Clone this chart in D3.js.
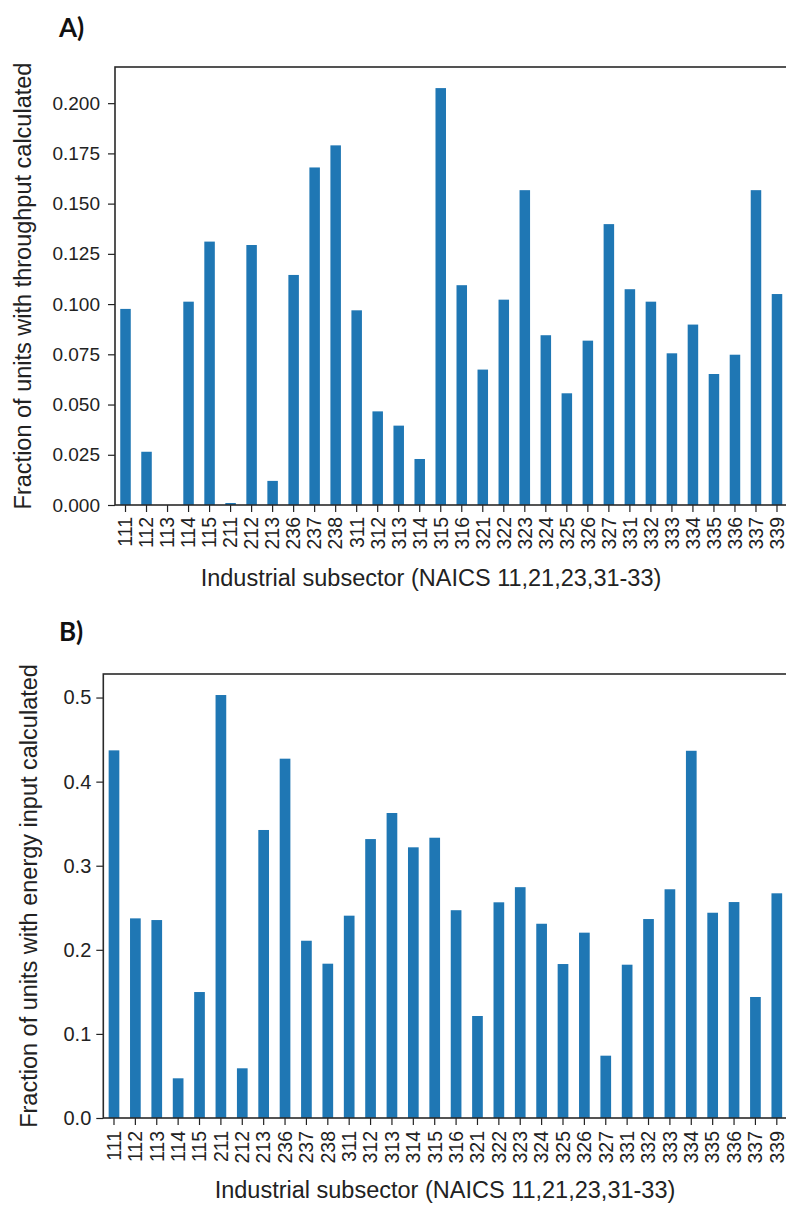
<!DOCTYPE html>
<html>
<head>
<meta charset="utf-8">
<script src="https://cdn.jsdelivr.net/npm/d3@7"></script>
<style>
  html, body { margin: 0; padding: 0; background: #fff; }
  svg { display: block; }
</style>
</head>
<body>
<svg id="fig" width="786" height="1205"></svg>
<script>
// NAICS industrial subsectors (x categories, shared by both panels)
const categories = ["111","112","113","114","115","211","212","213","236","237","238",
  "311","312","313","314","315","316","321","322","323","324","325","326","327",
  "331","332","333","334","335","336","337","339"];

// Panel A: fraction of units with throughput calculated
const throughputFraction = [0.0976,0.0265,0.0,0.1012,0.1311,0.001,0.1294,0.012,0.1145,0.168,0.179,
  0.0969,0.0466,0.0395,0.0229,0.2075,0.1094,0.0674,0.1022,0.1567,0.0845,0.0556,0.0818,0.1398,
  0.1074,0.1012,0.0755,0.0898,0.0652,0.0748,0.1567,0.105];

// Panel B: fraction of units with energy input calculated
const energyInputFraction = [0.4372,0.2374,0.2354,0.0472,0.1498,0.503,0.0591,0.3425,0.4273,0.2108,0.1835,
  0.2406,0.3317,0.3627,0.3219,0.3333,0.2471,0.1213,0.2565,0.2745,0.231,0.1831,0.2204,0.0741,
  0.1823,0.2366,0.272,0.4367,0.2441,0.2568,0.1439,0.2672];

const throughputTicks = [0, 0.025, 0.05, 0.075, 0.1, 0.125, 0.15, 0.175, 0.2];
const energyTicks = [0, 0.1, 0.2, 0.3, 0.4, 0.5];

const xLabelText = "Industrial subsector (NAICS 11,21,23,31-33)";

const BAR = "#1f77b4";
const FONT = "'Liberation Sans', Arial, sans-serif";

const svg = d3.select("#fig");

function drawPanel(p) {
  const g = svg.append("g");

  const x = d3.scaleBand()
    .domain(categories)
    .range([p.left, p.right])
    .paddingInner(0.5)
    .paddingOuter(0.25);

  const y = d3.scaleLinear()
    .domain([0, p.yMax])
    .range([p.bottom, p.top]);

  // bars
  g.append("g").selectAll("rect")
    .data(categories.map((c, i) => ({ c, v: p.values[i] })))
    .join("rect")
    .attr("x", d => x(d.c))
    .attr("width", x.bandwidth())
    .attr("y", d => y(d.v))
    .attr("height", d => y(0) - y(d.v))
    .attr("fill", BAR);

  // y axis
  const yAxis = g.append("g")
    .attr("transform", `translate(${p.left},0)`)
    .call(d3.axisLeft(y).tickValues(p.ticks).tickFormat(d3.format(p.fmt))
      .tickSize(7).tickPadding(p.yPad));
  yAxis.select(".domain").remove();
  yAxis.selectAll(".tick line").attr("stroke", "#222").attr("stroke-width", 1.2);
  yAxis.selectAll(".tick text")
    .attr("fill", "#222")
    .style("font-family", FONT)
    .style("font-size", p.yTickSize + "px");

  // x axis
  const xAxis = g.append("g")
    .attr("transform", `translate(0,${p.bottom})`)
    .call(d3.axisBottom(x).tickSize(7).tickPadding(3));
  xAxis.select(".domain").remove();
  xAxis.selectAll(".tick line").attr("stroke", "#222").attr("stroke-width", 1.2);
  xAxis.selectAll(".tick text")
    .attr("fill", "#222")
    .style("font-family", FONT)
    .style("font-size", "19.5px")
    .attr("transform", "rotate(-90)")
    .attr("text-anchor", "end")
    .attr("dy", "0.35em")
    .attr("x", -p.xLabOff)
    .attr("y", 0);

  // frame (spines)
  g.append("rect")
    .attr("x", p.left).attr("y", p.top)
    .attr("width", p.right - p.left).attr("height", p.bottom - p.top)
    .attr("fill", "none").attr("stroke", "#2a2a2a").attr("stroke-width", 1.6);

  // axis titles
  g.append("text")
    .attr("x", p.xTitleX).attr("y", p.xTitleY)
    .attr("text-anchor", "middle")
    .style("font-family", FONT).style("font-size", "23.5px").attr("fill", "#222")
    .text(xLabelText);

  g.append("text")
    .attr("transform", `translate(${p.yTitleX},${(p.top + p.bottom) / 2}) rotate(-90)`)
    .attr("text-anchor", "middle")
    .style("font-family", FONT).style("font-size", "23.5px").attr("fill", "#222")
    .text(p.yTitle);

  // panel letter
  g.append("text")
    .attr("x", p.tagX).attr("y", p.tagY)
    .style("font-family", "Lato, 'Open Sans', sans-serif")
    .style("font-weight", "bold").style("font-size", "26px").attr("fill", "#111")
    .text(p.tag);
}

drawPanel({
  tag: "A)", tagX: 59, tagY: 37,
  values: throughputFraction, ticks: throughputTicks, fmt: ".3f",
  left: 115, right: 787.5, top: 67, bottom: 505, yMax: 0.218,
  yPad: 8, yTickSize: 19, xLabOff: 12,
  xTitleX: 431, xTitleY: 586,
  yTitleX: 31, yTitle: "Fraction of units with throughput calculated"
});

drawPanel({
  tag: "B)", tagX: 59, tagY: 641,
  values: energyInputFraction, ticks: energyTicks, fmt: ".1f",
  left: 103.3, right: 787.5, top: 674, bottom: 1118, yMax: 0.528,
  yPad: 5, yTickSize: 20, xLabOff: 13,
  xTitleX: 445, xTitleY: 1198,
  yTitleX: 37, yTitle: "Fraction of units with energy input calculated"
});
</script>
</body>
</html>
